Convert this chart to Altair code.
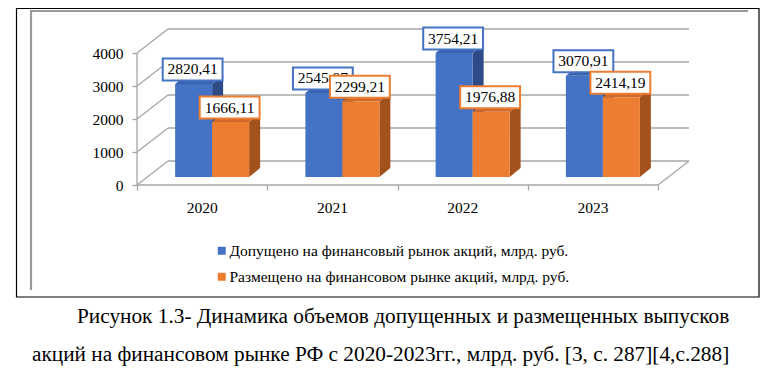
import altair as alt
import pandas as pd

# ---------------- data ----------------
years = ["2020", "2021", "2022", "2023"]
admitted = [2820.41, 2545.87, 3754.21, 3070.91]
placed = [1666.11, 2299.21, 1976.88, 2414.19]
series_names = [
    "Допущено на финансовый рынок акций, млрд. руб.",
    "Размещено на финансовом рынке акций, млрд. руб.",
]
y_ticks = [0, 1000, 2000, 3000, 4000]
caption_lines = [
    "Рисунок 1.3- Динамика объемов допущенных и размещенных выпусков",
    "акций на финансовом рынке РФ с 2020-2023гг., млрд. руб. [3, с. 287][4,с.288]",
]

front_colors = ["#4472C4", "#ED7D31"]
top_colors = ["#3A62AE", "#D0692A"]
side_colors = ["#2D4B86", "#A3521E"]
grid_color = "#A6A6A6"
FONT = "Liberation Serif"

# ---------------- geometry (pixel -> data units) ----------------
W, H = 553, 156
CAT_PX = 130.25          # pixels per category
VAL_PX = 0.033           # pixels per value unit
X_MAX = W / CAT_PX
Y_MAX = H / VAL_PX
WALL_DX, WALL_DY = 31 / CAT_PX, 24 / VAL_PX
BAR_W = 37 / CAT_PX
BAR_SHIFT = 10 / CAT_PX
BAR_BASE = 8 / VAL_PX
BAR_DX, BAR_DY = 11 / CAT_PX, 9 / VAL_PX

series_values = [admitted, placed]

front_rows, side_rows, top_rows, label_rows = [], [], [], []
for i, yr in enumerate(years):
    for s in range(2):
        v = series_values[s][i]
        x0 = i + 0.5 + BAR_SHIFT + (s - 1) * BAR_W
        x1 = x0 + BAR_W
        bid = f"{yr}-{s}"
        front_rows.append(dict(x=x0, x2=x1, y=BAR_BASE, y2=BAR_BASE + v,
                               series=series_names[s]))
        side_rows.append(dict(bid=bid, x=x1, y=BAR_BASE + v, y2=BAR_BASE,
                              fill=side_colors[s]))
        side_rows.append(dict(bid=bid, x=x1 + BAR_DX, y=BAR_BASE + v + BAR_DY,
                              y2=BAR_BASE + BAR_DY, fill=side_colors[s]))
        top_rows.append(dict(bid=bid, y=BAR_BASE + v, x=x0, x2=x1,
                             fill=top_colors[s]))
        top_rows.append(dict(bid=bid, y=BAR_BASE + v + BAR_DY, x=x0 + BAR_DX,
                             x2=x1 + BAR_DX, fill=top_colors[s]))
        label_rows.append(dict(x=(x0 + x1) / 2 - 1 / CAT_PX, y=BAR_BASE + v,
                               label=f"{v:.2f}".replace(".", ","),
                               stroke=front_colors[s], s=s))

front_df = pd.DataFrame(front_rows)
side_df = pd.DataFrame(side_rows)
top_df = pd.DataFrame(top_rows)
label_df = pd.DataFrame(label_rows)

n = len(years)
grid_rows = []
for t in y_ticks:
    # back wall gridline
    grid_rows.append(dict(x=WALL_DX, x2=n + WALL_DX, y=t + WALL_DY, y2=t + WALL_DY))
    # side wall diagonal
    grid_rows.append(dict(x=0, x2=WALL_DX, y=t, y2=t + WALL_DY))
# floor right diagonal
grid_rows.append(dict(x=n, x2=n + WALL_DX, y=0, y2=WALL_DY))
# front vertical axis line
grid_rows.append(dict(x=0, x2=0, y=0, y2=y_ticks[-1]))
# floor front line
grid_rows.append(dict(x=0, x2=n, y=0, y2=0))
grid_df = pd.DataFrame(grid_rows)

year_df = pd.DataFrame(dict(x=[i + 0.5 for i in range(n)], y=[0] * n, label=years))

# ---------------- scales / axes ----------------
xs = alt.Scale(domain=[0, X_MAX], nice=False, zero=False)
ys = alt.Scale(domain=[0, Y_MAX], nice=False, zero=False)
x_axis = alt.Axis(values=list(range(n + 1)), labels=False, domain=False, grid=False,
                  ticks=True, tickSize=5, tickColor=grid_color, tickWidth=1.3, title=None)
y_axis = alt.Axis(values=y_ticks, format="d", domain=False, grid=False, ticks=True,
                  tickSize=5, tickColor=grid_color, tickWidth=1.3, labelPadding=9,
                  labelFont=FONT, labelFontSize=15.5, labelColor="black", title=None)


def X(f="x"):
    return alt.X(f"{f}:Q", scale=xs, axis=x_axis)


def Y(f="y"):
    return alt.Y(f"{f}:Q", scale=ys, axis=y_axis)


grid = alt.Chart(grid_df).mark_rule(color=grid_color, strokeWidth=1.3).encode(
    x=X(), x2="x2:Q", y=Y(), y2="y2:Q")

sides = alt.Chart(side_df).mark_area(interpolate="linear", opacity=1).encode(
    x=X(), y=Y(), y2="y2:Q", detail="bid:N",
    color=alt.Color("fill:N", scale=None))

tops = alt.Chart(top_df).mark_area(interpolate="linear", orient="horizontal", opacity=1).encode(
    y=Y(), x=X(), x2="x2:Q", detail="bid:N",
    color=alt.Color("fill:N", scale=None))

fronts = alt.Chart(front_df).mark_rect(opacity=1).encode(
    x=X(), x2="x2:Q", y=Y(), y2="y2:Q",
    color=alt.Color("series:N", scale=alt.Scale(domain=series_names, range=front_colors),
                    sort=series_names,
                    legend=alt.Legend(orient="none", legendX=77, legendY=214, title=None,
                                      symbolType="square", symbolSize=64,
                                      symbolStrokeWidth=0, labelFont=FONT,
                                      labelFontSize=15.5, labelColor="black",
                                      labelOffset=0, rowPadding=9, labelLimit=0,
                                      direction="vertical")))

box_path = "M-1.36,-0.5H1.36V0.5H-1.36Z"
label_layers = []
for s in range(2):
    sub = label_df[label_df["s"] == s]
    box = alt.Chart(sub).mark_point(shape=box_path, size=1936, filled=True, fill="white",
                                    strokeWidth=2, opacity=1, yOffset=-14.5).encode(
        x=X(), y=Y(), stroke=alt.Stroke("stroke:N", scale=None))
    txt = alt.Chart(sub).mark_text(font=FONT, fontSize=15.5, color="black",
                                   align="center", baseline="middle", dy=-14.5).encode(
        x=X(), y=Y(), text="label:N")
    label_layers += [box, txt]

year_text = alt.Chart(year_df).mark_text(font=FONT, fontSize=15.5, color="black",
                                         align="center", baseline="middle", dy=23).encode(
    x=X(), y=Y(), text="label:N")

one = pd.DataFrame({"k": [0]})
outer = alt.Chart(one).mark_rect(fill=None, stroke="black", strokeWidth=1.2).encode(
    x=alt.value(-120.5), x2=alt.value(622), y=alt.value(-20.5), y2=alt.value(268))
gray_top = alt.Chart(one).mark_rule(color="#999999", strokeWidth=2.2).encode(
    x=alt.value(-106), x2=alt.value(611), y=alt.value(-18))
gray_left = alt.Chart(one).mark_rule(color="#999999", strokeWidth=2.2).encode(
    x=alt.value(-106), y=alt.value(-19), y2=alt.value(261))

cap_df = pd.DataFrame(dict(text=caption_lines, line=[0, 1]))
cap1 = alt.Chart(cap_df[cap_df.line == 0]).mark_text(
    font=FONT, fontSize=21.3, color="black", align="left", baseline="middle").encode(
    x=alt.value(-60), y=alt.value(288), text="text:N")
cap2 = alt.Chart(cap_df[cap_df.line == 1]).mark_text(
    font=FONT, fontSize=21.3, color="black", align="left", baseline="middle").encode(
    x=alt.value(-105), y=alt.value(326), text="text:N")

chart = alt.layer(
    outer, gray_top, gray_left, grid, sides, tops, fronts, *label_layers, year_text,
    cap1, cap2
).properties(
    width=W, height=H,
    padding={"left": 129, "top": 21, "right": 73, "bottom": 190},
    autosize=alt.AutoSizeParams(type="none"),
    background="white",
).configure_view(stroke=None)

chart.save("out.html", embed_options={"renderer": "svg", "actions": False})
